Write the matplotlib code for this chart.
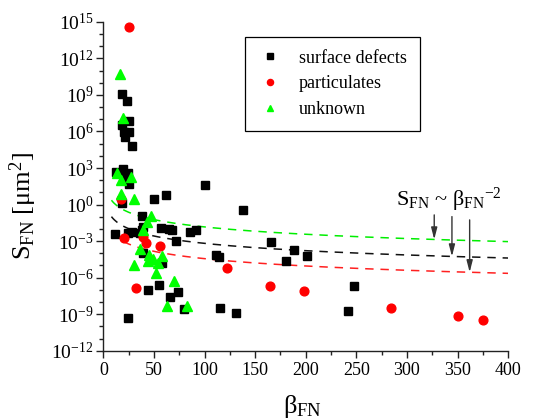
import numpy as np
import matplotlib
matplotlib.use('Agg')
import matplotlib.pyplot as plt
from matplotlib.ticker import MultipleLocator, FixedLocator, LogFormatterSciNotation, NullFormatter

plt.rcParams['font.family'] = ['Liberation Serif', 'DejaVu Serif']
plt.rcParams['mathtext.fontset'] = 'custom'
plt.rcParams['mathtext.rm'] = 'Liberation Serif'
plt.rcParams['mathtext.it'] = 'Liberation Serif:italic'
plt.rcParams['mathtext.bf'] = 'Liberation Serif:bold'

# surface defects
defect_beta = [18.6, 23.5, 25.5, 18.6, 20.5, 25.5, 21.2, 28.1, 19.0, 12.3,
               24.5, 20.5, 25.2, 49.9, 62.4, 18.0, 11.4, 37.7, 24.5, 28.4,
               38.3, 39.3, 36.7, 56.8, 64.7, 68.3, 71.6, 85.4, 91.4, 39.3,
               57.5, 55.1, 44.3, 73.9, 65.7, 79.5, 24.5, 100.2, 138.1, 166.1,
               188.4, 111.8, 114.4, 180.9, 115.7, 131.5, 201.3, 247.7, 241.8]
defect_S = [1.2e9, 2.9e8, 7.9e6, 3.1e6, 8.9e5, 8.9e5, 3.4e5, 6.6e4, 7.9e2, 4.3e2,
            3.8e2, 1.7e2, 5.0e1, 2.8, 6.2, 1.3, 3.6e-3, 1.2e-1, 4.5e-3, 6.0e-3,
            8.3e-3, 1.5e-2, 4.5e-3, 1.1e-2, 9.3e-3, 8.3e-3, 1.1e-3, 6.0e-3, 8.3e-3, 1.0e-4,
            1.5e-5, 2.5e-7, 9.8e-8, 7.1e-8, 2.8e-8, 2.5e-9, 5.1e-10, 4.2e1, 3.6e-1, 9.1e-4,
            1.9e-4, 7.2e-5, 4.7e-5, 2.3e-5, 3.0e-9, 1.2e-9, 6.0e-5, 2.1e-7, 1.8e-9]

# particulates
partic_beta = [25.5, 20.2, 39.3, 42.6, 56.1, 32.1, 17.0, 121.7, 164.4, 198.3,
               284.0, 350.1, 375.1]
partic_S = [3.5e14, 1.7e-3, 2.1e-3, 7.4e-4, 3.8e-4, 1.4e-7, 2.9, 6.6e-6, 2.2e-7, 7.6e-8,
            3.0e-9, 7.6e-10, 3.5e-10]

# unknown
unknown_beta = [16.3, 19.6, 13.6, 17.0, 27.8, 17.0, 30.4, 46.6, 43.6, 39.3,
                36.7, 45.2, 49.2, 44.3, 54.1, 58.1, 30.1, 51.9, 69.6, 63.0, 82.8]
unknown_S = [5.5e10, 1.3e7, 3.8e2, 1.1e2, 2.0e2, 7.6, 2.8, 1.2e-1, 4.0e-2, 8.3e-3,
             2.1e-4, 7.2e-5, 3.2e-5, 2.3e-5, 1.7e-5, 6.0e-5, 1.0e-5, 2.6e-6, 5.4e-7, 4.7e-9, 4.7e-9]

# S_FN = C * beta^-2 guide lines
fit_C = {'green': 145.0, 'black': 6.5, 'red': 0.36}
fit_beta = np.linspace(8, 400, 300)

fig = plt.figure(figsize=(5.44, 4.2), dpi=100)
ax = fig.add_axes([0.190, 0.165, 0.744, 0.783])

for col in ['green', 'black', 'red']:
    c = {'green': '#00ee00', 'black': '#111111', 'red': '#ff2020'}[col]
    ax.plot(fit_beta, fit_C[col] * fit_beta ** -2.0, color=c, lw=1.1,
            linestyle=(0, (5.5, 4.5)), zorder=2)

ax.plot(defect_beta, defect_S, 's', color='black', ms=5.8, ls='none',
        label='surface defects', zorder=3)
ax.plot(partic_beta, partic_S, 'o', color='#ff0000', ms=6.3, ls='none',
        label='particulates', zorder=4)
ax.plot(unknown_beta, unknown_S, '^', color='#00ff00', ms=7, ls='none',
        label='unknown', zorder=5)

ax.set_yscale('log')
ax.set_xlim(0, 400)
ax.set_ylim(1e-12, 1e15)

ax.xaxis.set_major_locator(MultipleLocator(50))
ax.xaxis.set_minor_locator(MultipleLocator(25))
ax.yaxis.set_major_locator(FixedLocator([10.0 ** k for k in range(-12, 16, 3)]))
ax.yaxis.set_minor_locator(FixedLocator([10.0 ** k for k in range(-12, 16)]))
ax.yaxis.set_major_formatter(LogFormatterSciNotation())
ax.yaxis.set_minor_formatter(NullFormatter())

for s in ['top', 'right']:
    ax.spines[s].set_visible(False)
for s in ['left', 'bottom']:
    ax.spines[s].set_color('#222222')
    ax.spines[s].set_linewidth(1.0)

ax.tick_params(which='major', direction='out', length=5, width=1, color='#222222')
ax.tick_params(which='minor', direction='out', length=3, width=1, color='#222222')
ax.tick_params(axis='x', labelsize=13, pad=3)
ax.tick_params(axis='y', labelsize=14, pad=2)

ax.set_xlabel('β$_\\mathrm{FN}$', fontsize=19)
ax.set_ylabel('S$_\\mathrm{FN}$ [μm$^2$]', fontsize=19)
ax.xaxis.set_label_coords(0.493, -0.128)
ax.yaxis.set_label_coords(-0.16, 0.44)

leg = ax.legend(loc='upper left', bbox_to_anchor=(0.35, 0.955), borderaxespad=0,
                fontsize=13, markerscale=0.7, fancybox=False, framealpha=1,
                edgecolor='black', handlelength=1.3, handletextpad=0.95,
                borderpad=0.72, labelspacing=0.48)
leg.get_frame().set_linewidth(0.9)

# annotation with arrows pointing at the three guide lines
ax.text(289.6, 10 ** -0.11, 'S$_\\mathrm{FN}$ ~ β$_\\mathrm{FN}$$^{-2}$',
        fontsize=16, ha='left', va='baseline')
arrow_beta = {'green': 327.0, 'black': 344.5, 'red': 362.0}
arrow_tail = {'green': 10 ** -0.85, 'black': 10 ** -0.99, 'red': 10 ** -1.26}
for col in ['green', 'black', 'red']:
    b = arrow_beta[col]
    ax.annotate('', xy=(b, fit_C[col] * b ** -2.0), xytext=(b, arrow_tail[col]),
                arrowprops=dict(arrowstyle='-|>,head_length=0.7,head_width=0.18',
                                color='#333333', lw=1.0, shrinkA=0, shrinkB=0,
                                mutation_scale=10))

fig.savefig('out.png', dpi=100)
